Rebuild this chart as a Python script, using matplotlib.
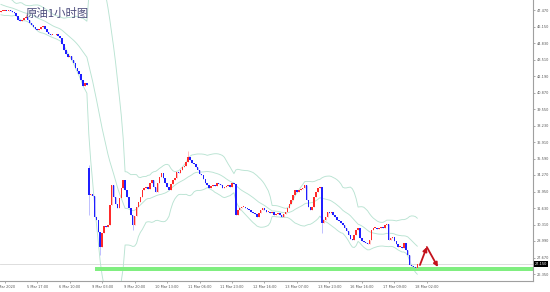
import numpy as np
import pandas as pd
import matplotlib
matplotlib.use("Agg")
import matplotlib.pyplot as plt
from matplotlib.transforms import blended_transform_factory

# hourly closes before the visible window (only feed the bollinger bands)
warmup_closes = [48.55, 48.40, 48.60, 48.30, 48.10, 48.25, 48.45, 48.20, 47.90, 47.70,
                 47.85, 48.05, 47.80, 47.55, 47.60, 47.45, 47.30, 47.50, 47.35]

# visible hourly closes, 4 Mar -> 18 Mar
closes = [
    # 4 Mar - 6 Mar
    47.39, 47.42, 47.43, 47.38, 47.45, 47.40, 47.31, 47.23, 46.99, 46.67,
    46.59, 46.67, 46.83, 46.91, 46.67, 46.43, 46.27, 46.11, 45.95, 45.87,
    45.95, 46.11, 46.19, 45.95, 45.71, 45.55, 45.47, 45.47, 45.45, 45.55,
    45.39, 45.23, 44.75, 44.27, 43.95, 43.71, 43.79, 43.47, 43.23, 42.83,
    42.59, 42.35, 41.87, 41.39, 41.63, 41.47,
    # 9 Mar onwards (after the weekend gap)
    32.67, 32.75, 32.60, 30.91, 30.67, 29.70, 28.51, 29.63, 30.19, 30.11,
    30.27, 31.87, 33.47, 32.51, 31.95, 31.63, 32.43, 33.23, 33.87, 33.07,
    32.51, 31.63, 31.07, 30.27, 31.00, 31.71, 32.11, 32.51, 33.07, 33.23,
    33.31, 33.15, 33.63, 33.87, 33.31, 32.91, 33.63, 34.11, 34.43, 34.03,
    33.63, 33.31, 33.07, 33.55, 33.87, 34.03, 34.51, 34.43, 34.67, 34.91,
    34.99, 35.31, 35.71, 35.47, 35.23, 35.15, 34.91, 34.67, 34.35, 34.27,
    33.95, 33.63, 33.47, 33.23, 33.39, 33.47, 33.39, 33.63, 33.55, 33.47,
    33.23, 33.31, 33.39, 33.47, 33.31, 33.63, 33.55, 31.07, 31.47, 31.63,
    31.71, 31.75, 31.63, 31.55, 31.47, 31.31, 31.23, 31.15, 30.91, 31.23,
    31.47, 31.63, 31.47, 31.31, 31.31, 31.23, 31.31, 31.07, 31.15, 31.23,
    31.07, 30.91, 31.15, 31.31, 31.63, 31.95, 32.27, 32.67, 33.07, 32.91,
    33.07, 33.15, 33.23, 33.47, 32.27, 31.71, 31.47, 31.71, 32.51, 32.91,
    33.23, 33.31, 30.43,
    30.67, 30.91, 31.31, 31.23, 31.31, 31.07, 30.91, 30.67, 30.59, 30.43,
    30.27, 30.03, 29.79, 29.47, 29.15, 29.07, 29.47, 29.87, 30.03, 29.23,
    28.99, 28.91, 28.83, 28.75, 29.07, 29.87, 30.03, 30.03, 29.95, 30.03,
    30.11, 30.03, 30.27, 30.35, 29.07, 29.23, 29.31, 28.99, 28.75, 28.51,
    28.51, 28.43, 28.83, 28.27, 27.87, 27.07, 26.99, 26.91, 26.87, 27.15,
]

gap_bar = 46
gap_open = 34.83

# a few visible long wicks
wick_high = {13: 47.15, 46: 35.05, 98: 36.19}
wick_low = {46: 31.07, 52: 27.87, 69: 29.90, 168: 29.67}

x_labels = ["4 Mar 2020", "5 Mar 17:00", "6 Mar 10:00", "9 Mar 03:00", "9 Mar 20:00",
            "10 Mar 13:00", "11 Mar 06:00", "11 Mar 23:00", "12 Mar 16:00", "13 Mar 07:00",
            "13 Mar 23:00", "16 Mar 16:00", "17 Mar 09:00", "18 Mar 02:00"]
price_ticks = [26.350, 27.670, 28.990, 30.310, 31.630, 32.950, 34.270, 35.590, 36.910,
               38.230, 39.550, 40.870, 42.190, 43.510, 44.830, 46.150, 47.470]

support_low, support_high = 26.60, 26.92
support_start = 49
arrow_x = [219.4, 223.0, 228.8]
arrow_y = [27.07, 28.51, 26.91]

closes = np.array(closes)
n = len(closes)
x = np.arange(n)
opens = np.r_[warmup_closes[-1], closes[:-1]]
opens[gap_bar] = gap_open
highs = np.maximum(opens, closes)
lows = np.minimum(opens, closes)
for k, v in wick_high.items():
    highs[k] = v
for k, v in wick_low.items():
    lows[k] = v

# bollinger 20, 2
allc = pd.Series(np.r_[warmup_closes, closes])
xa = np.arange(-len(warmup_closes), n)
mid = allc.rolling(20).mean()
sd = allc.rolling(20).std(ddof=0)
upper = mid + 2 * sd
lower = mid - 2 * sd

fig = plt.figure(figsize=(5.5, 2.92), dpi=100)
ax = fig.add_axes([0, 1 - 281 / 292, 533 / 550, 281 / 292])

band_col = '#b9e3d2'
for line in (upper, mid, lower):
    ax.plot(xa, line, color=band_col, lw=0.65, zorder=1)

ax.axhline(closes[-1], color='#d8d8d8', lw=0.6, zorder=0)
ax.fill_between([support_start, 300], support_low, support_high, color='#80ee80', lw=0, zorder=2)

up = closes >= opens
body_col = np.where(up, '#ff2a2a', '#1f1fff')
wick_col = np.where(up, '#ffb4b4', '#b4b4ff')
ax.vlines(x, lows, highs, colors=wick_col, lw=0.6, zorder=3)
h = np.maximum(np.abs(closes - opens), 0.05)
ax.bar(x, h, bottom=np.minimum(opens, closes), width=0.8, color=body_col, lw=0, zorder=4)

arrow_props = dict(arrowstyle='-|>', color='#c4121c', lw=1.3, mutation_scale=6, shrinkA=0, shrinkB=0)
ax.annotate('', xy=(arrow_x[1], arrow_y[1]), xytext=(arrow_x[0], arrow_y[0]), arrowprops=arrow_props, zorder=5)
ax.annotate('', xy=(arrow_x[2], arrow_y[2]), xytext=(arrow_x[1], arrow_y[1]), arrowprops=arrow_props, zorder=5)

ax.set_xlim(-0.5, 278.6)
ax.set_ylim(25.79, 48.27)

for s in ('top', 'left'):
    ax.spines[s].set_visible(False)
for s in ('right', 'bottom'):
    ax.spines[s].set_color('#a0a0a0')
    ax.spines[s].set_linewidth(0.8)

ax.yaxis.tick_right()
ax.set_yticks(price_ticks)
ax.set_yticklabels([f'{v:.3f}' for v in price_ticks])
ax.set_xticks(np.arange(len(x_labels)) * 17 + 2)
ax.set_xticklabels(x_labels)
ax.tick_params(axis='both', labelsize=2.5, length=1.5, width=0.5, color='#888888',
               labelcolor='#555555', pad=1.2)

trans = blended_transform_factory(ax.transAxes, ax.transData)
ax.text(1.003, closes[-1], f'{closes[-1]:.3f}', transform=trans, fontsize=2.5, color='white',
        va='center', ha='left', clip_on=False, zorder=6,
        bbox=dict(boxstyle='square,pad=0.25', fc='black', ec='none'))

fig.text(26 / 550, 1 - 13 / 292, '原油1小时图', fontsize=8.2, color='#4c4c7c',
         family=['Noto Sans CJK SC', 'DejaVu Sans'], va='center', ha='left')

fig.savefig('out.png', dpi=100)
